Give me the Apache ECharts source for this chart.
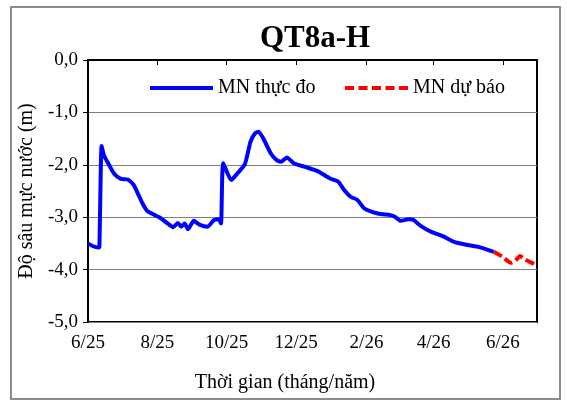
<!DOCTYPE html>
<html>
<head>
<meta charset="utf-8">
<script src="https://cdn.jsdelivr.net/npm/echarts@6/dist/echarts.min.js"></script>
<style>
  html, body { margin: 0; padding: 0; background: #fff; }
  #chart { width: 567px; height: 403px; }
</style>
</head>
<body>
<div id="chart"></div>
<script>
// mốc thời gian của trục X
var startDate = '2025-06-01'
var endDate = '2026-07-01'
var tickDates = ['2025-06-01', '2025-08-01', '2025-10-01', '2025-12-01', '2026-02-01', '2026-04-01', '2026-06-01']
var tickLabels = ['6/25', '8/25', '10/25', '12/25', '2/26', '4/26', '6/26']

// MN thực đo
var obsDates = [
    '2025-06-01', '2025-06-05', '2025-06-10', '2025-06-11', '2025-06-13', '2025-06-15', '2025-06-19',
    '2025-06-24', '2025-06-30', '2025-07-06', '2025-07-11', '2025-07-16', '2025-07-19', '2025-07-23',
    '2025-07-27', '2025-08-04', '2025-08-10', '2025-08-15', '2025-08-19', '2025-08-22', '2025-08-25',
    '2025-08-28', '2025-09-02', '2025-09-07', '2025-09-14', '2025-09-20', '2025-09-24', '2025-09-26',
    '2025-09-28', '2025-10-05', '2025-10-11', '2025-10-17', '2025-10-22', '2025-10-26', '2025-10-29',
    '2025-11-03', '2025-11-09', '2025-11-14', '2025-11-18', '2025-11-23', '2025-11-29', '2025-12-09',
    '2025-12-20', '2025-12-31', '2026-01-07', '2026-01-12', '2026-01-18', '2026-01-24', '2026-01-30',
    '2026-02-11', '2026-02-22', '2026-02-26', '2026-03-03', '2026-03-10', '2026-03-14', '2026-03-21',
    '2026-03-30', '2026-04-09', '2026-04-19', '2026-05-01', '2026-05-11', '2026-05-24'
]
var obsValues = [
    -3.50, -3.55, -3.58, -3.57, -1.64, -1.82, -1.98,
    -2.17, -2.27, -2.28, -2.38, -2.60, -2.74, -2.88,
    -2.93, -3.02, -3.12, -3.19, -3.11, -3.18, -3.12,
    -3.23, -3.07, -3.14, -3.18, -3.05, -3.04, -3.12,
    -1.97, -2.29, -2.15, -1.99, -1.56, -1.40, -1.37,
    -1.53, -1.79, -1.91, -1.94, -1.86, -1.97, -2.04,
    -2.12, -2.26, -2.32, -2.47, -2.61, -2.67, -2.83,
    -2.93, -2.96, -2.99, -3.07, -3.04, -3.05, -3.17,
    -3.28, -3.36, -3.47, -3.53, -3.57, -3.66
]

// MN dự báo
var fcDates = ['2026-05-24', '2026-06-01', '2026-06-08', '2026-06-12', '2026-06-16', '2026-06-20', '2026-07-01']
var fcValues = [-3.66, -3.76, -3.87, -3.83, -3.74, -3.80, -3.92]

var fontName = '"Liberation Serif", "Times New Roman", serif'

// ký hiệu chú giải: nét liền và nét đứt
var iconSolid = 'path://M0,0h63v4h-63z'
var iconDash = 'path://M0,0h9v4h-9z M13.5,0h9v4h-9z M27,0h9v4h-9z M40.5,0h9v4h-9z M54,0h9v4h-9z'

//số ngày tính từ ngày bắt đầu
function dayOf(s) {
    return (Date.parse(s) - Date.parse(startDate)) / 86400000
}

function toPairs(dates, values) {
    var arr = []
    for (var i = 0; i < dates.length; i++) {
        arr.push([dayOf(dates[i]), values[i]])
    }
    return arr
}

var tickDays = tickDates.map(dayOf)

var myChart = echarts.init(document.getElementById('chart'))

var option = {
    backgroundColor: '#fff',
    animation: false,
    textStyle: { fontFamily: fontName },
    title: [
        {
            text: 'QT8a-H',
            left: 310,
            top: 18,
            textAlign: 'center',
            textStyle: { fontFamily: fontName, fontSize: 31, fontWeight: 'bold', color: '#000' }
        },
        {
            text: 'Thời gian (tháng/năm)',
            left: 280,
            top: 368,
            textAlign: 'center',
            textStyle: { fontFamily: fontName, fontSize: 20, fontWeight: 'normal', color: '#000' }
        }
    ],
    graphic: [
        {
            type: 'rect',
            shape: { x: 11, y: 7, width: 549, height: 392 },
            style: { fill: 'none', stroke: '#8c8c8c', lineWidth: 2 },
            silent: true
        }
    ],
    legend: [
        {
            data: [{ name: 'MN thực đo', icon: iconSolid }],
            left: 145,
            top: 73,
            itemWidth: 63,
            itemHeight: 4,
            itemGap: 8,
            textStyle: { fontFamily: fontName, fontSize: 20, color: '#000' }
        },
        {
            data: [{ name: 'MN dự báo', icon: iconDash }],
            left: 340,
            top: 73,
            itemWidth: 63,
            itemHeight: 4,
            textStyle: { fontFamily: fontName, fontSize: 20, color: '#000' }
        }
    ],
    grid: {
        left: 88,
        right: 30,
        top: 60,
        bottom: 81,
        show: true,
        borderColor: '#000',
        borderWidth: 2
    },
    xAxis: {
        type: 'value',
        min: dayOf(startDate),
        max: dayOf(endDate),
        splitLine: { show: false },
        axisLine: { lineStyle: { color: '#000', width: 2 } },
        axisTick: {
            customValues: tickDays,
            length: 5,
            lineStyle: { color: '#000', width: 1 }
        },
        axisLabel: {
            customValues: tickDays,
            margin: 12,
            fontFamily: fontName,
            fontSize: 19,
            color: '#000',
            formatter: function (v) {
                var i = tickDays.indexOf(v)
                return i >= 0 ? tickLabels[i] : ''
            }
        }
    },
    yAxis: {
        type: 'value',
        min: -5,
        max: 0,
        interval: 1,
        name: 'Độ sâu mực nước (m)',
        nameLocation: 'middle',
        nameGap: 45,
        nameTextStyle: { fontFamily: fontName, fontSize: 20, color: '#000' },
        axisLine: { show: true, lineStyle: { color: '#000', width: 2 } },
        axisTick: { show: true, length: 5, lineStyle: { color: '#000' } },
        splitLine: { lineStyle: { color: '#7f7f7f', width: 1 } },
        axisLabel: {
            margin: 10,
            fontFamily: fontName,
            fontSize: 19,
            color: '#000',
            formatter: function (v) {
                return v.toFixed(1).replace('.', ',')
            }
        }
    },
    series: [
        {
            name: 'MN thực đo',
            type: 'line',
            symbol: 'none',
            smooth: 0.2,
            color: '#0000ff',
            lineStyle: { color: '#0000ff', width: 4 },
            data: toPairs(obsDates, obsValues)
        },
        {
            name: 'MN dự báo',
            type: 'line',
            symbol: 'none',
            smooth: 0.2,
            color: '#ff0000',
            lineStyle: { color: '#ff0000', width: 4, type: [9, 4] },
            data: toPairs(fcDates, fcValues)
        }
    ]
}

myChart.setOption(option)
</script>
</body>
</html>
